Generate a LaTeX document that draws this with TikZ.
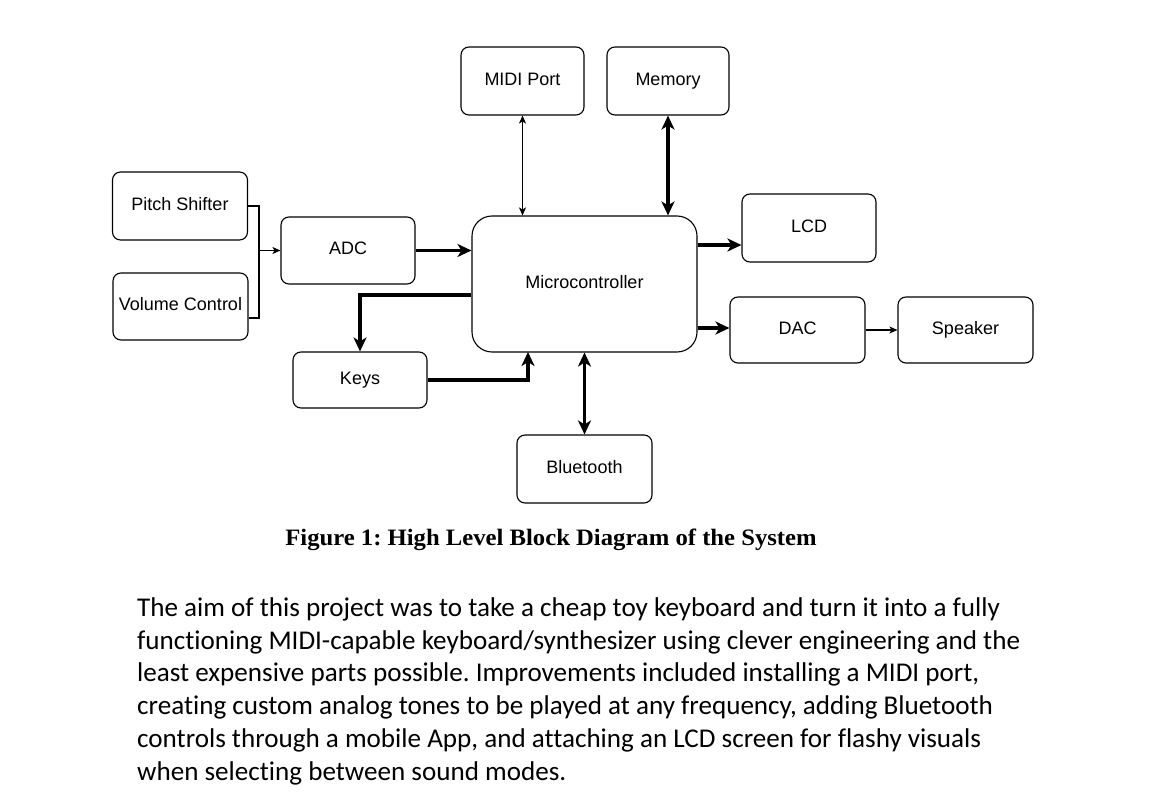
\documentclass[tikz,border=0pt]{standalone}
\usepackage{fontspec}
\setmainfont{Liberation Sans}
\newfontfamily\capfont{Liberation Serif}
\newfontfamily\bodyfont{Carlito}[Ligatures={NoCommon}]
\usetikzlibrary{arrows.meta}
\frenchspacing
\begin{document}
\begin{tikzpicture}[x=1pt,y=-1pt,
  blk/.style={draw, rounded corners=8pt, inner sep=0pt, line width=1.1pt,
    text height=13pt, text depth=4pt,
    font=\fontsize{18}{20}\selectfont},
  thinline/.style={line width=1.1pt},
  thinarrow/.style={line width=1.1pt, -{Stealth[length=8pt,width=7pt,inset=2pt]}},
  thinboth/.style={line width=1.1pt, {Stealth[length=8pt,width=7pt,inset=2pt]}-{Stealth[length=8pt,width=7pt,inset=2pt]}},
  thickarrow/.style={line width=3.5pt, -{Stealth[length=14pt,width=13pt,inset=4pt]}},
  thickboth/.style={line width=3.5pt, {Stealth[length=14pt,width=13pt,inset=4pt]}-{Stealth[length=14pt,width=13pt,inset=4pt]}},
  bodyline/.style={anchor=base west, inner sep=0pt, font=\bodyfont\fontsize{27.1}{32}\selectfont}
]
\useasboundingbox (0,0) rectangle (1168,802);
\fill[white] (0,0) rectangle (1168,802);

% blocks
\node[blk, minimum width=135pt, minimum height=68pt] (pitch) at (180,206) {Pitch Shifter};
\node[blk, minimum width=135pt, minimum height=67pt] (vol) at (180.5,306.5) {Volume Control};
\node[blk, minimum width=134pt, minimum height=67pt] (adc) at (348,250.5) {ADC};
\node[blk, rounded corners=20pt, minimum width=225pt, minimum height=136pt] (micro) at (584.5,284) {Microcontroller};
\node[blk, minimum width=134pt, minimum height=56pt] (keys) at (360,380) {Keys};
\node[blk, minimum width=135pt, minimum height=68pt] (bt) at (584.5,469) {Bluetooth};
\node[blk, minimum width=123pt, minimum height=68pt] (midi) at (522.5,81) {MIDI Port};
\node[blk, minimum width=122pt, minimum height=68pt] (mem) at (668,81) {Memory};
\node[blk, minimum width=134pt, minimum height=68pt] (lcd) at (809,228) {LCD};
\node[blk, minimum width=135pt, minimum height=66pt] (dac) at (797.5,330) {DAC};
\node[blk, minimum width=135pt, minimum height=66pt] (spk) at (965.5,330) {Speaker};

% helper coordinates
\coordinate (jb) at (259,318);
\coordinate (ky) at (0,295);
\coordinate (ku) at (528,352);
\coordinate (ly) at (0,245);
\coordinate (dy) at (0,328);

% connectors
\draw[thinline] (pitch.east) -| (jb) -- (vol.east |- jb);
\draw[thinarrow] (adc.west -| jb) -- (adc.west);
\draw[thickarrow] (adc.east) -- (adc.east -| micro.west);
\draw[thickarrow] (micro.west |- ky) -| (keys.north);
\draw[thickarrow] (keys.east) -| (ku);
\draw[thickboth] (bt.north) -- (bt.north |- micro.south);
\draw[thinboth] (midi.south) -- (midi.south |- micro.north);
\draw[thickboth] (mem.south) -- (mem.south |- micro.north);
\draw[thickarrow] (micro.east |- ly) -- (lcd.west |- ly);
\draw[thickarrow] (micro.east |- dy) -- (dac.west |- dy);
\draw[thinarrow] (dac.east) -- (spk.west);

% caption
\node[anchor=base, inner sep=0pt, xscale=1.05, font=\capfont\bfseries\fontsize{23.5}{28}\selectfont] (cap) at (551,545.5) {Figure 1: High Level Block Diagram of the System};

% paragraph
\node[bodyline] (l1) at (137,616.5) {The aim of this project was to take a cheap toy keyboard and turn it into a fully};
\node[bodyline] (l2) at (137,649.2) {functioning MIDI-capable keyboard/synthesizer using clever engineering and the};
\node[bodyline] (l3) at (137,681.9) {least expensive parts possible. Improvements included installing a MIDI port,};
\node[bodyline] (l4) at (137,714.6) {creating custom analog tones to be played at any frequency, adding Bluetooth};
\node[bodyline] (l5) at (137,747.3) {controls through a mobile App, and attaching an LCD screen for flashy visuals};
\node[bodyline] (l6) at (137,780) {when selecting between sound modes.};
\end{tikzpicture}
\end{document}
